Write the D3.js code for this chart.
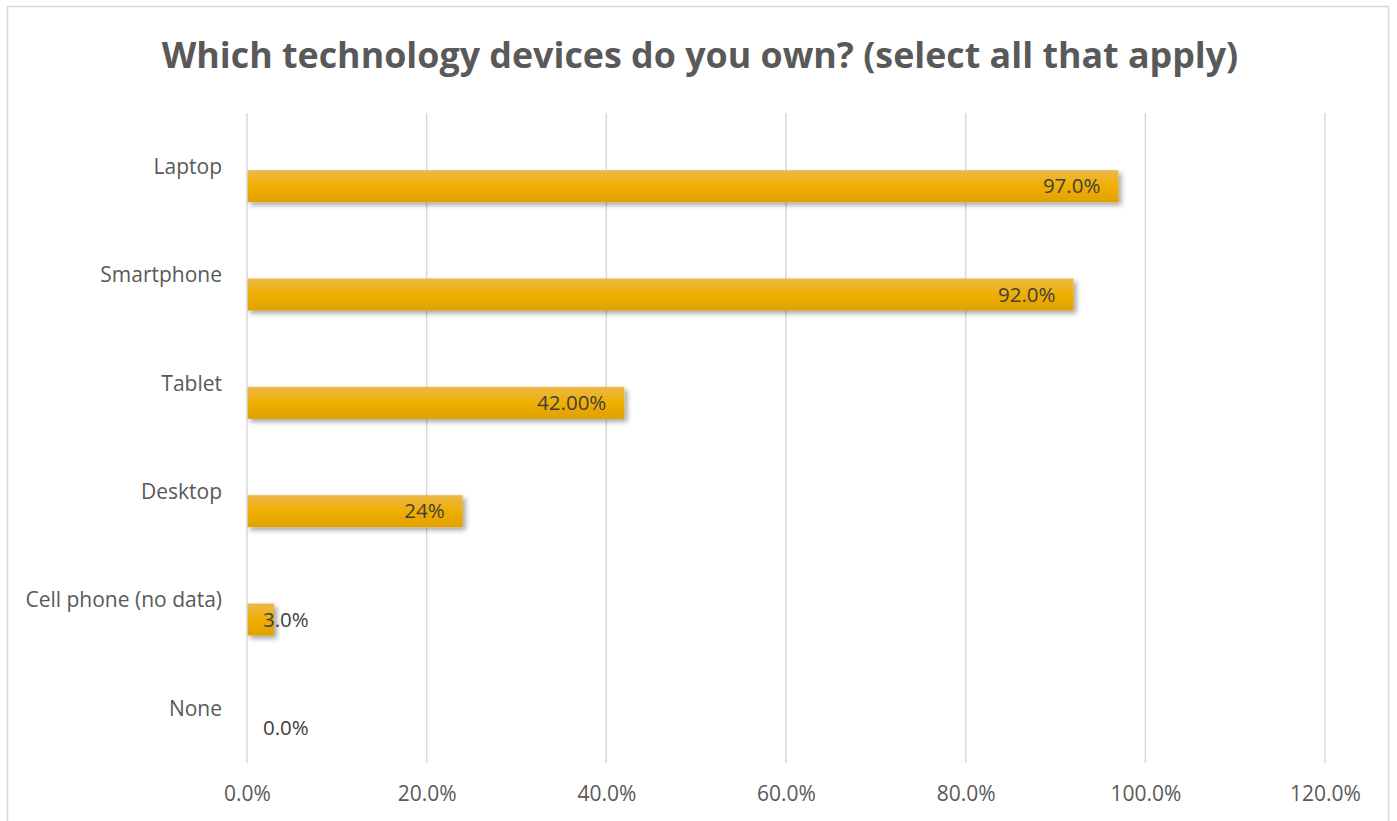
<!DOCTYPE html>
<html><head><meta charset="utf-8">
<script src="https://cdn.jsdelivr.net/npm/d3@7"></script>
<style>body{margin:0;background:#fff}svg{display:block}</style>
</head><body>
<svg id="c" width="1397" height="821"></svg>
<script>
const categories = ["Laptop","Smartphone","Tablet","Desktop","Cell phone (no data)","None"];
const values = [0.97, 0.92, 0.42, 0.24, 0.03, 0.0];
const valueLabels = ["97.0%","92.0%","42.00%","24%","3.0%","0.0%"];
const xTicks = [0,0.2,0.4,0.6,0.8,1.0,1.2];
const title = "Which technology devices do you own? (select all that apply)";

const svg = d3.select("#c");
const font = "'Open Sans', sans-serif";
const defs = svg.append("defs");
const g = defs.append("linearGradient").attr("id","bg").attr("x1",0).attr("y1",0).attr("x2",0).attr("y2",1);
g.append("stop").attr("offset","0").attr("stop-color","#ECB84A");
g.append("stop").attr("offset","0.5").attr("stop-color","#F0AF00");
g.append("stop").attr("offset","1").attr("stop-color","#E0A100");
const f = defs.append("filter").attr("id","sh").attr("x","-10%").attr("y","-30%").attr("width","130%").attr("height","200%");
f.append("feDropShadow").attr("dx",3).attr("dy",3).attr("stdDeviation",2.5).attr("flood-color","#000").attr("flood-opacity",0.35);

svg.append("rect").attr("x",7.5).attr("y",6.5).attr("width",1381).attr("height",830)
  .attr("fill","#fff").attr("stroke","#D9D9D9").attr("stroke-width",1.5);

const x = d3.scaleLinear().domain([0,1.2]).range([247,1325]);
const y = d3.scaleBand().domain(categories).range([113,763]).padding(0);

svg.append("text").attr("x",700).attr("y",68).attr("text-anchor","middle")
  .attr("font-family",font).attr("font-weight","bold").attr("font-size",35.8)
  .attr("fill","#595959").text(title);

// gridlines
svg.append("g").selectAll("line").data(xTicks.slice(1)).join("line")
  .attr("x1",d=>x(d)).attr("x2",d=>x(d)).attr("y1",113).attr("y2",763)
  .attr("stroke","#D9D9D9").attr("stroke-width",1.5);

// x axis labels
const xa = svg.append("g").attr("transform","translate(0,763)")
  .call(d3.axisBottom(x).tickValues(xTicks).tickSize(0).tickPadding(23).tickFormat(d3.format(".1%")));
xa.select(".domain").remove();
xa.selectAll("text").attr("font-family",font).attr("font-size",21).attr("fill","#595959");

// bars
const bw = 32;
svg.append("g").selectAll("rect").data(categories).join("rect")
  .attr("x",x(0)).attr("y",(d)=>y(d)+y.bandwidth()/2+3)
  .attr("width",(d,i)=>x(values[i])-x(0)).attr("height",bw)
  .attr("fill","url(#bg)").attr("filter","url(#sh)");

// vertical axis line
svg.append("line").attr("x1",x(0)).attr("x2",x(0)).attr("y1",113).attr("y2",763)
  .attr("stroke","#D9D9D9").attr("stroke-width",1.5);

// category labels
const ya = svg.append("g").attr("transform","translate(247,0)")
  .call(d3.axisLeft(y).tickSize(0).tickPadding(25));
ya.select(".domain").remove();
ya.selectAll("text").attr("font-family",font).attr("font-size",21).attr("fill","#595959");

// value labels
const lbl = svg.append("g").selectAll("text").data(categories).join("text")
  .attr("y",d=>y(d)+y.bandwidth()/2+3+bw/2)
  .attr("dy","0.35em")
  .attr("font-family",font).attr("font-size",20.5).attr("fill","#404040")
  .text((d,i)=>valueLabels[i]);
lbl.each(function(d,i){
  const w = this.getComputedTextLength();
  const bl = x(values[i])-x(0);
  if (bl > w + 30) d3.select(this).attr("x", x(values[i]) - 18).attr("text-anchor","end");
  else d3.select(this).attr("x", x(0) + 16).attr("text-anchor","start");
});
</script>
</body></html>
